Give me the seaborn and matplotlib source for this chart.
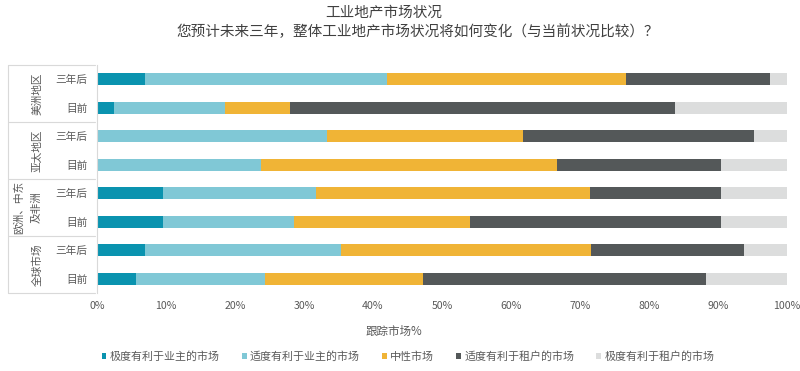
import matplotlib
matplotlib.use("Agg")
import matplotlib.pyplot as plt
import seaborn as sns
import pandas as pd
from matplotlib.transforms import blended_transform_factory
from matplotlib.patches import Patch
from matplotlib.lines import Line2D

# ---------------- data ----------------
group_names = ["美洲地区", "亚太地区", "欧洲、中东及非洲", "全球市场"]
group_lines = [["美洲地区"], ["亚太地区"], ["欧洲、中东", "及非洲"], ["全球市场"]]
periods = ["三年后", "目前", "三年后", "目前", "三年后", "目前", "三年后", "目前"]
series_names = ["极度有利于业主的市场", "适度有利于业主的市场", "中性市场",
                "适度有利于租户的市场", "极度有利于租户的市场"]
very_landlord = [7.0, 2.4, 0.0, 0.0, 9.5, 9.5, 7.0, 5.6]
mod_landlord = [35.0, 16.2, 33.3, 23.8, 22.2, 19.0, 28.4, 18.8]
neutral = [34.7, 9.3, 28.5, 42.8, 39.7, 25.5, 36.2, 22.8]
mod_tenant = [20.9, 55.8, 33.4, 23.8, 19.0, 36.4, 22.1, 41.0]
very_tenant = [2.4, 16.3, 4.8, 9.6, 9.6, 9.6, 6.3, 11.8]
x_ticks = [0, 10, 20, 30, 40, 50, 60, 70, 80, 90, 100]
colors = ["#0A93AF", "#80C8D6", "#F0B436", "#545859", "#DCDDDD"]

title1 = "工业地产市场状况"
title2 = "您预计未来三年，整体工业地产市场状况将如何变化（与当前状况比较）？"
xlabel = "跟踪市场%"

# ---------------- build table ----------------
row_ids = [f"r{i}" for i in range(len(periods))]
df = pd.DataFrame({
    "row": row_ids,
    series_names[0]: very_landlord,
    series_names[1]: mod_landlord,
    series_names[2]: neutral,
    series_names[3]: mod_tenant,
    series_names[4]: very_tenant,
})
cum = df[series_names].cumsum(axis=1)

# ---------------- style ----------------
sns.set_theme(style="white")
plt.rcParams["font.family"] = ["Noto Sans CJK SC", "DejaVu Sans"]
text_color = "#595959"
line_color = "#D9D9D9"

fig = plt.figure(figsize=(8, 3.71), dpi=100)
ax = fig.add_axes([97 / 800, 1 - 293 / 371, (787 - 97) / 800, (293 - 65) / 371])

# stacked bars: draw cumulative totals from largest to smallest
for i in range(len(series_names) - 1, -1, -1):
    plot_df = pd.DataFrame({"row": row_ids, "val": cum[series_names[i]].values})
    sns.barplot(data=plot_df, x="val", y="row", order=row_ids, orient="h",
                color=colors[i], width=0.42, linewidth=0, saturation=1,
                ax=ax, errorbar=None)

ax.set_xlim(0, 100)
ax.set_ylim(len(row_ids) - 0.5, -0.5)
ax.set_xticks(x_ticks)
ax.set_xticklabels([f"{t}%" for t in x_ticks], fontsize=7.6, color=text_color)
ax.set_yticks(range(len(row_ids)))
ax.set_yticklabels(periods, fontsize=7.7, color=text_color)
ax.tick_params(axis="y", length=0, pad=7)
ax.tick_params(axis="x", length=0, pad=6)
ax.set_xlabel("")
ax.set_ylabel("")
for s in ["top", "right", "bottom"]:
    ax.spines[s].set_visible(False)
ax.spines["left"].set_color(line_color)
ax.spines["left"].set_linewidth(0.8)

fig.text(394 / 800, 1 - 331.5 / 371, xlabel, ha="center", va="center",
         fontsize=8.3, color=text_color)

# group table on left
trans = blended_transform_factory(fig.transFigure, ax.transData)
x0 = 8 / 800
x1 = 95 / 800
for yb in [-0.5, 1.5, 3.5, 5.5, 7.5]:
    fig.add_artist(Line2D([x0, x1], [yb, yb], transform=trans,
                          color=line_color, lw=0.8, clip_on=False))
fig.add_artist(Line2D([x0, x0], [-0.5, 7.5], transform=trans,
                      color=line_color, lw=0.8, clip_on=False))

for gi, lines in enumerate(group_lines):
    yc = gi * 2 + 0.5
    if len(lines) == 1:
        xs = [37]
    else:
        xs = [19, 37]
    for xp, txt in zip(xs, lines):
        ax.text(xp / 800, yc, txt, transform=trans, rotation=90,
                ha="center", va="center", fontsize=7.7, color=text_color)

# titles
fig.text(384 / 800, 1 - 13 / 371, title1, ha="center", va="center",
         fontsize=10.5, color="#404040")
fig.text(418 / 800, 1 - 31.5 / 371, title2, ha="center", va="center",
         fontsize=10.5, color="#404040")

# legend
handles = [Patch(facecolor=c, edgecolor="none") for c in colors]
fig.legend(handles, series_names, loc="center", ncol=5,
           bbox_to_anchor=(408 / 800, 1 - 356.5 / 371), frameon=False,
           fontsize=7.9, handlelength=0.45, handleheight=0.45,
           handletextpad=0.3, columnspacing=2.0, labelcolor=text_color,
           borderpad=0, borderaxespad=0)

fig.savefig("out.png", dpi=100)
